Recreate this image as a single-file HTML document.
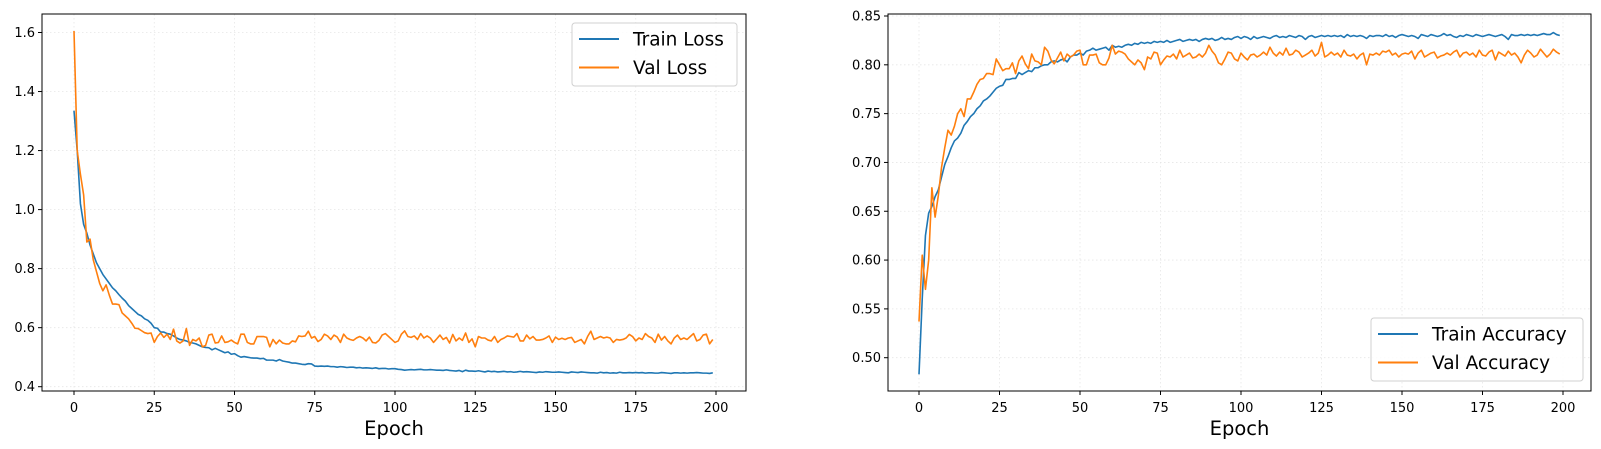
<!DOCTYPE html>
<html><head><meta charset="utf-8"><style>
html,body{margin:0;padding:0;background:#fff;}
svg{display:block;font-family:"DejaVu Sans","Liberation Sans",sans-serif;}
</style></head><body>
<svg id="chart" width="1601" height="449" viewBox="0 0 1601 449"></svg>
<script>
const epochs = 200;
const xTicks = [0,25,50,75,100,125,150,175,200];
const lossTicks = [0.4,0.6,0.8,1.0,1.2,1.4,1.6];
const lossTickLabels = ["0.4","0.6","0.8","1.0","1.2","1.4","1.6"];
const accTicks = [0.50,0.55,0.60,0.65,0.70,0.75,0.80,0.85];
const accTickLabels = ["0.50","0.55","0.60","0.65","0.70","0.75","0.80","0.85"];
const trainLoss = [
1.335,1.20,1.02,0.95,0.92,0.88,0.85,0.82,0.80,0.78,
0.765,0.75,0.735,0.725,0.712,0.70,0.69,0.675,0.665,0.655,
0.645,0.64,0.63,0.625,0.615,0.60,0.598,0.585,0.585,0.58,
0.578,0.572,0.565,0.56,0.558,0.555,0.55,0.548,0.545,0.54,
0.535,0.533,0.532,0.525,0.53,0.525,0.52,0.515,0.518,0.51,
0.512,0.505,0.50,0.502,0.50,0.498,0.497,0.497,0.495,0.496,
0.49,0.49,0.49,0.487,0.492,0.487,0.485,0.483,0.48,0.48,
0.478,0.476,0.475,0.478,0.477,
.470,.469,.470,.469,.470,.468,.468,.466,.468,.467,.465,.466,.466,.464,.465,.463,.464,.463,.462,.464,.461,.462,.462,.460,.461,
.461,.459,.458,.456,.457,.458,.457,.458,.459,.457,.457,.458,.457,.456,.456,.455,.457,.455,.454,.453,.455,.451,.456,.453,.453,
.452,.454,.452,.450,.453,.451,.452,.450,.451,.452,.450,.451,.449,.450,.452,.450,.451,.450,.449,.448,.450,.449,.451,.450,.449,
.449,.450,.449,.448,.447,.450,.449,.448,.450,.449,.448,.447,.447,.446,.449,.447,.448,.446,.447,.446,.449,.447,.447,.448,.447,
.448,.447,.448,.446,.447,.447,.446,.446,.448,.447,.446,.445,.447,.447,.446,.447,.446,.447,.447,.448,.447,.446,.446,.445,.447];
const valLoss = [
1.605,1.20,1.12,1.05,0.89,0.90,0.83,0.79,0.75,0.725,
0.745,0.71,0.68,0.68,0.678,0.65,0.64,0.63,0.615,0.598,
0.597,0.59,0.583,0.58,0.582,0.55,0.57,0.582,0.567,0.578,
0.56,0.595,0.555,0.548,0.555,0.597,0.54,0.56,0.555,0.565,
.535,.54,.575,.578,.548,.55,.572,.55,.552,.558,
.55,.545,.578,.578,.55,.545,.545,.57,.57,.57,
.567,.535,.56,.545,.558,.548,.545,.545,.555,.552,
.572,.57,.572,.588,.565,.57,.553,.56,.578,.572,
.56,.575,.568,.55,.578,.565,.56,.557,.565,.57,
.565,.555,.568,.55,.548,.557,.575,.58,.57,.56,
.55,.555,.578,.589,.57,.567,.572,.56,.58,.565,
.572,.565,.55,.562,.575,.56,.567,.548,.577,.555,
.565,.557,.582,.55,.562,.535,.57,.565,.565,.558,
.555,.57,.55,.56,.565,.572,.57,.568,.58,.555,
.555,.575,.562,.57,.558,.558,.56,.565,.572,.55,
.568,.56,.564,.56,.565,.567,.55,.555,.56,.545,
.57,.588,.56,.565,.57,.565,.568,.565,.55,.56,
.558,.56,.565,.577,.57,.555,.565,.56,.58,.57,
.565,.55,.578,.558,.57,.555,.545,.565,.575,.56,
.565,.56,.57,.58,.555,.56,.575,.578,.545,.56];
const trainAcc = [
.483,.56,.625,.648,.655,.665,.672,.685,.698,.706,
.715,.722,.725,.730,.738,.742,.747,.750,.755,.758,
.763,.765,.768,.772,.776,.778,.779,.785,.785,.786,
.786,.792,.790,.792,.794,.793,.797,.797,.799,.800,
.800,.803,.804,.803,.805,.806,.803,.808,.810,.810,
.812,.810,.814,.815,.817,.815,.816,.817,.818,.815,
.820,.818,.819,.818,.820,.821,.820,.822,.821,.823,
.822,.823,.822,.824,.823,.824,.823,.825,.823,.824,
.825,.826,.824,.825,.826,.825,.826,.824,.826,.827,
.826,.827,.825,.826,.828,.826,.827,.826,.828,.829,
.827,.829,.828,.826,.829,.827,.828,.829,.828,.827,
.829,.830,.828,.829,.828,.830,.829,.828,.830,.829,
.826,.829,.830,.828,.829,.830,.829,.830,.829,.830,
.829,.830,.828,.831,.829,.830,.829,.830,.829,.827,
.830,.829,.830,.830,.829,.831,.829,.830,.828,.830,
.831,.830,.829,.830,.829,.827,.831,.830,.829,.831,
.830,.829,.830,.832,.830,.831,.829,.828,.830,.829,
.831,.830,.829,.831,.830,.829,.830,.831,.830,.829,
.830,.831,.829,.826,.831,.830,.830,.831,.830,.831,
.830,.831,.830,.831,.832,.831,.831,.833,.831,.830];
const valAcc = [
.537,.605,.570,.600,.674,.644,.666,.695,.715,.733,
.728,.737,.750,.755,.747,.765,.765,.772,.780,.785,
.786,.791,.791,.790,.806,.800,.794,.796,.796,.802,
.791,.804,.809,.801,.796,.811,.804,.803,.800,.818,
.814,.805,.801,.807,.813,.804,.811,.808,.810,.814,
.815,.800,.800,.810,.810,.811,.802,.800,.800,.807,
.820,.811,.814,.813,.811,.806,.803,.800,.805,.802,
.795,.808,.806,.813,.812,.800,.805,.809,.808,.811,
.806,.815,.808,.810,.812,.807,.808,.811,.808,.812,
.820,.814,.810,.802,.800,.806,.813,.812,.806,.804,
.812,.808,.805,.810,.811,.808,.810,.813,.810,.818,
.812,.809,.813,.810,.817,.810,.811,.815,.813,.808,
.810,.812,.815,.809,.812,.823,.808,.810,.813,.810,
.812,.808,.815,.810,.809,.811,.806,.810,.812,.800,
.811,.810,.812,.810,.814,.813,.815,.810,.812,.808,
.811,.812,.811,.814,.806,.812,.815,.808,.810,.812,
.813,.807,.809,.810,.812,.810,.813,.815,.808,.812,
.813,.810,.812,.808,.815,.810,.809,.813,.815,.805,
.813,.811,.809,.814,.810,.812,.808,.802,.810,.815,
.812,.808,.810,.816,.812,.808,.811,.816,.813,.811];

const NS = "http://www.w3.org/2000/svg";
const svg = document.getElementById('chart');
function mk(tag, attrs, parent){
  const e = document.createElementNS(NS, tag);
  for (const k in attrs) e.setAttribute(k, attrs[k]);
  (parent||svg).appendChild(e);
  return e;
}
function panel(cfg){
  const g = mk('g', {});
  
  
  const X = e => cfg.x0 + (e - 0) * (cfg.x200 - cfg.x0) / 200;
  const Y = v => cfg.yA + (v - cfg.vA) * (cfg.yB - cfg.yA) / (cfg.vB - cfg.vA);
  xTicks.forEach(t => {
    const l = mk('line', {x1:X(t),x2:X(t),y1:cfg.top,y2:cfg.bottom,stroke:'#e6e6e6','stroke-width':0.8,'stroke-dasharray':'1.5,2.5'}, g);
    
    
  });
  cfg.yTicks.forEach(t => {
    const l = mk('line', {x1:cfg.left,x2:cfg.right,y1:Y(t),y2:Y(t),stroke:'#e6e6e6','stroke-width':0.8,'stroke-dasharray':'1.5,2.5'}, g);
    
    
  });
  cfg.series.forEach(s => {
    const d = s.data.map((v,i) => (i?'L':'M') + X(i).toFixed(2) + ',' + Y(v).toFixed(2)).join('');
    const p = mk('path', {d:d, fill:'none', stroke:s.color, 'stroke-width':1.6, 'stroke-linejoin':'round'}, g);
    
    
  });
  const fr = mk('rect', {x:cfg.left,y:cfg.top,width:cfg.right-cfg.left,height:cfg.bottom-cfg.top,fill:'none',stroke:'#000','stroke-width':1}, g);
  
  
  xTicks.forEach(t => {
    mk('line', {x1:X(t),x2:X(t),y1:cfg.bottom,y2:cfg.bottom+4,stroke:'#000','stroke-width':1}, g);
    const tx = mk('text', {x:X(t),y:cfg.bottom+21,'text-anchor':'middle','font-size':13,fill:'#000'}, g);
    tx.textContent = String(t);
    
    
  });
  cfg.yTicks.forEach((t,i) => {
    mk('line', {x1:cfg.left-4,x2:cfg.left,y1:Y(t),y2:Y(t),stroke:'#000','stroke-width':1}, g);
    const tx = mk('text', {x:cfg.left-7,y:Y(t)+4.5,'text-anchor':'end','font-size':13,fill:'#000'}, g);
    tx.textContent = cfg.yLabels[i];
    
    
  });
  const xl = mk('text', {x:(cfg.left+cfg.right)/2,y:435,'text-anchor':'middle','font-size':19.5,fill:'#000'}, g);
  xl.textContent = 'Epoch';
  
  
  const L = cfg.legend;
  const lg = mk('g', {}, g);
  
  
  mk('rect', {x:L.x,y:L.y,width:L.w,height:L.h,rx:3,fill:'#fff','fill-opacity':0.85,stroke:'#d0d0d0','stroke-width':1}, lg);
  cfg.series.forEach((s,i) => {
    const yy = L.y + 16 + i*28.5;
    mk('line', {x1:L.x+7,x2:L.x+47,y1:yy,y2:yy,stroke:s.color,'stroke-width':2}, lg);
    const tx = mk('text', {x:L.x+61,y:yy+6.5,'font-size':18.5,fill:'#000'}, lg);
    tx.textContent = s.label;
    
    
  });
}
panel({name:'loss-panel', left:42, right:746, top:14, bottom:391, x0:74, x200:716,
  vA:0.4, yA:386.7, vB:1.6, yB:32.5, yTicks:lossTicks, yLabels:lossTickLabels,
  series:[{name:'train-loss-line',label:'Train Loss',data:trainLoss,color:'#1f77b4'},
          {name:'val-loss-line',label:'Val Loss',data:valLoss,color:'#ff7f0e'}],
  legend:{x:572,y:23,w:165,h:63}});
panel({name:'accuracy-panel', left:888, right:1591, top:14, bottom:391, x0:919, x200:1563,
  vA:0.85, yA:16, vB:0.50, yB:357.7, yTicks:accTicks, yLabels:accTickLabels,
  series:[{name:'train-accuracy-line',label:'Train Accuracy',data:trainAcc,color:'#1f77b4'},
          {name:'val-accuracy-line',label:'Val Accuracy',data:valAcc,color:'#ff7f0e'}],
  legend:{x:1371,y:318,w:212,h:63}});
</script>
</body></html>
